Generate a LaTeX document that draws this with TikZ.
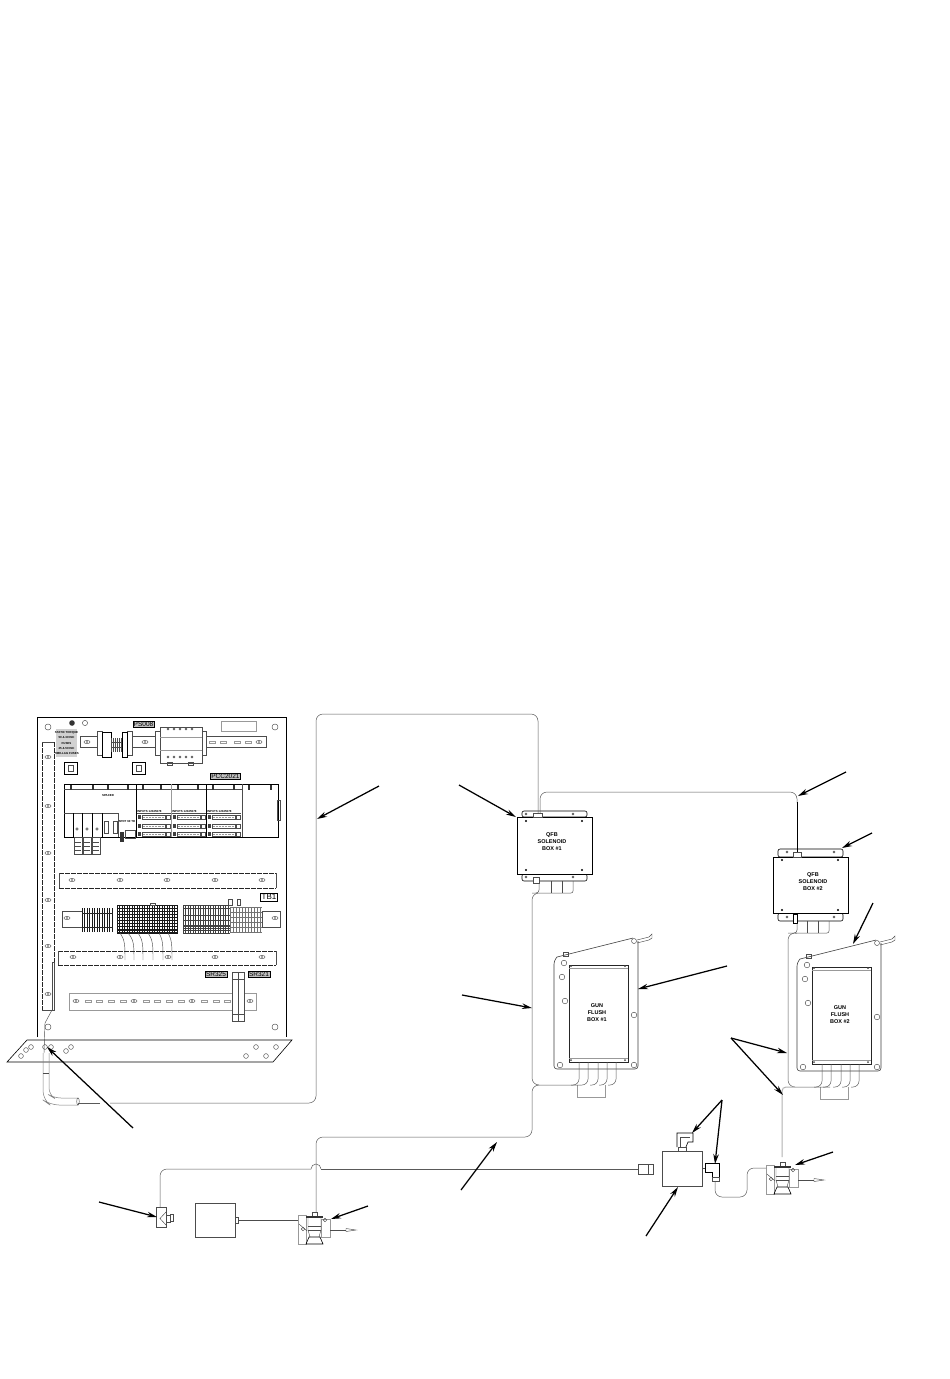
\documentclass[tikz,border=0pt]{standalone}
\usepackage{fontspec}
\setsansfont{Liberation Sans}
\usetikzlibrary{arrows.meta}
\tikzset{
  outline/.style={draw=black,line width=0.6pt},
  part/.style={draw=black!70,line width=0.45pt},
  faint/.style={draw=black!40,line width=0.45pt},
  wire/.style={draw=black!65,line width=0.5pt,rounded corners=7pt},
  railedge/.style={draw=black!85,line width=0.8pt,dash pattern=on 5pt off 1pt},
  leader/.style={draw=black,line width=1.25pt,-{Stealth[length=10pt,width=5.5pt]}},
  boxtext/.style={font=\sffamily\bfseries\fontsize{5.5}{7}\selectfont,align=center,inner sep=0pt},
  tagtext/.style={font=\sffamily\fontsize{6.5}{7}\selectfont,inner sep=1pt,fill=black!25,draw=black,line width=0.4pt},
  tinytext/.style={font=\sffamily\bfseries\fontsize{2.9}{3.9}\selectfont,align=center,inner sep=0pt},
  bolt/.pic={\draw[part] (0,0) ellipse (3 and 1.6); \fill[black!70] (0,0) circle (0.9);},
  slot/.pic={\draw[faint] (-3,-1.2) rectangle (3,1.2);},
  qfbwires/.pic={
    \draw[wire,rounded corners=2pt] (56,64) -- (56,76) -- (22,76);
    \foreach \xs in {34,45} \draw[part] (\xs,64) -- (\xs,76);
  },
  qfbbox/.pic={
    \draw[outline,rounded corners=2pt] (5,0) rectangle (70,-6);
    \draw[outline,rounded corners=2pt] (5,57) rectangle (70,64);
    \draw[outline,fill=white] (0,0) rectangle (75,57);
    \foreach \xs/\ys in {9/4,65/4,9/53,65/53} \fill (\xs,\ys) circle (1.2);
    \foreach \xs in {9,56} {\draw[part] (\xs,-3) circle (1); \draw[part] (\xs,60) circle (1);}
    \pic at (0,0) {qfbwires};
    \node[boxtext] (title) at (35,25) {QFB\\SOLENOID\\BOX \#1};
  },
  gunplate/.pic={
    \draw[outline,draw=black!75] (3,20) -- (79,1);
    \draw[outline,draw=black!75,rounded corners=3pt] (3,20) -- (0,24) -- (0,132) -- (84,132) -- (84,4);
    \draw[outline,draw=black!85] (15,28) rectangle (74,125);
    \draw[faint] (15,31) -- (74,31) (15,121) -- (74,121);
    \foreach \xs/\ys in {10/26,8/40,11/64,80/78,6/128,80/128} \draw[part] (\xs,\ys) circle (2.8);
    \foreach \xs/\ys in {17/29,71/29,17/123,71/123} \fill[black!70] (\xs,\ys) circle (1);
    \draw[part] (9,15) rectangle (14,19);
    \draw[part] (80,4) circle (2.5);
    \draw[part] (83,3) -- (95,0) -- (98,-3) -- (98,1) -- (95,3) -- (83,6);
    \foreach \xs in {25,34,44,53,62} \draw[wire,rounded corners=6pt] (\xs,125) -- (\xs,148) -- ({\xs-8},148);
    \draw[faint] (23,148) -- (23,160) -- (51,160) -- (51,148);
  },
  valve/.pic={
    \draw[faint] (0,3) rectangle (8,32);
    \draw[faint] (23,7) rectangle (32,25);
    \draw[part] (14,0) rectangle (19,4);
    \fill[black!80] (8,4) rectangle (25,6);
    \draw[part] (10,6) -- (10,18) -- (12,25) (23,6) -- (23,18) -- (21,25);
    \draw[part] (10,14) -- (23,14) (10,18) -- (23,18);
    \draw[outline] (8,32) -- (11,25) -- (22,25) -- (25,32) -- cycle;
    \draw[part] (1,12) -- (9,19);
    \draw[part] (27,8) circle (1.8);
    \draw[part] (5,17) circle (1.8);
    \draw[part] (32,18) -- (48,18);
    \draw[part] (48,16.5) -- (58,18) -- (48,19.5) -- cycle;
  }
}
\begin{document}
\begin{tikzpicture}[x=1pt,y=-1pt]
    \fill[white] (0,0) rectangle (950,1379);
    \useasboundingbox (0,0) rectangle (950,1379);
    %% panel
    \draw[outline] (37,1037) -- (37,717) -- (286,717) -- (286,1037);
    \draw[outline] (7,1062) -- (27,1040) -- (292,1040) -- (273,1062) -- cycle;
    \foreach \xh/\yh in {21/1056,26/1050,31/1047,45/1047,51/1047,66/1051,71/1047,246/1056,256/1047,266/1056,276/1047}
      \draw[part] (\xh,\yh) circle (2.4);
    \foreach \xh/\yh in {48/727,275/727,48/1027,275/1027} \draw[part] (\xh,\yh) circle (3);
    \fill[black!80] (72,723) circle (2.8);
    \draw[part] (85,723) circle (2.6);
    \draw[faint] (221,721) rectangle (256,731);
    \node[tagtext] (ps) at (143.5,724) {PS008};
    \node[tagtext] (pcc) at (225.5,776) {PCC2021};
    \node[tagtext,fill=white,font=\sffamily\fontsize{8}{9}\selectfont] (tb) at (269,897) {TB1};
    \node[tagtext] (srl) at (216,974) {SR325};
    \node[tagtext] (srr) at (259,974) {SR321};
    %% side strip
    \draw[railedge] (42,742) -- (42,1010) (54,742) -- (54,962);
    \draw[part] (42,742) -- (54,742) (42,1010) -- (54,1010) (52,962) rectangle (54,1010);
    \foreach \yh in {757,806,853,900,946,994} \pic at (48,\yh) {bolt};
    \draw[part] (52,1010) -- (45,1023) -- (44,1053);
    %% top rail
    \fill[black!18] (56,729) rectangle (77,757);
    \node[tinytext,font=\sffamily\bfseries\fontsize{2.9}{5.4}\selectfont] (notice) at (66.5,743) {STATIC TORQUE\\50 \& 30 INC\\FUSES\\25 \& 50 INC\\TIME-LAG FUSES};
    \draw[part] (80,736) rectangle (97,747) (132,736) rectangle (155,747) (206,736) rectangle (266,747);
    \foreach \xh in {87,145,259} \pic at (\xh,742) {bolt};
    \foreach \xh in {212,223,237,248} \pic at (\xh,742) {slot};
    \foreach \xh/\yh in {64/762,132/762} {
      \draw[outline] (\xh,\yh) rectangle (\xh+13,\yh+12);
      \draw[part] (\xh+4,\yh+3) rectangle (\xh+9,\yh+9);
    }
    \draw[part] (97,731) rectangle (102,755) (127,731) rectangle (132,755);
    \draw[outline] (102,732) rectangle (111,757) (122,732) rectangle (127,757);
    \foreach \xh in {111,113,...,122} \draw[part] (\xh,738) -- (\xh,752);
    \draw[part] (111,742) -- (122,742) (111,747) -- (122,747);
    \draw[part] (155,731) rectangle (160,755) (202,731) rectangle (206,755);
    \draw[part] (160,727) rectangle (202,763);
    \draw[faint] (160,737) -- (202,737) (160,750) -- (202,750);
    \foreach \xh in {168,174,180,186,192} {\draw[part] (\xh,729) circle (1); \draw[part] (\xh,757) circle (1);}
    \draw[part] (167,762) rectangle (172,765) (188,762) rectangle (193,765);
    %% rack
    \draw[outline] (64,784) rectangle (278,837);
    \draw[part] (64,789) -- (242,789);
    \draw[outline] (136,784) -- (136,837) (206,784) -- (206,837);
    \draw[faint] (171,784) -- (171,837);
    \draw[part] (242,784) -- (242,837);
    \foreach \xh in {70,92,107,127,142,160,177,197,212,233,248,270} \fill[black!80] (\xh,785) rectangle (\xh+1.5,790);
    \node[tinytext] (spaced) at (108,795) {SPACED};
    \draw[part] (64,813) -- (118,813) -- (118,837);
    \draw[outline] (73,813) -- (73,837) (82,813) -- (82,837) (92,813) -- (92,837) (102,813) -- (102,837);
    \foreach \xh in {77,87,97} \draw[part] (\xh,829) circle (1.2);
    \draw[part] (104,821) rectangle (108,833) (113,821) rectangle (117,833);
    \foreach \xh in {74,83,92} {
      \draw[part] (\xh,837) rectangle (\xh+8,854);
      \foreach \yh in {842,846,850} \draw[part] (\xh+1,\yh) -- (\xh+7,\yh);
    }
    \fill[black!80] (120,832) rectangle (124,842);
    \draw[part] (125,830) rectangle (135,838);
    \node[tinytext] (spd) at (127,821) {SPDT 60 TD};
    \foreach \xh/\lbl in {137/INPUTS,172/INPUTS,207/INPUTS} {
      \node[tinytext,anchor=west] at (\xh,811) {\lbl\ 12345678};
      \draw[part] (\xh,813.5) -- (\xh+34,813.5);
      \foreach \yh in {817,826,834} {
        \fill[black!75] (\xh+1,\yh-2) rectangle (\xh+4,\yh+2);
        \draw[part] (\xh+5,\yh-2) rectangle (\xh+28,\yh+2);
        \draw[faint,densely dotted] (\xh+6,\yh) -- (\xh+27,\yh);
        \draw[part] (\xh+29,\yh-2) rectangle (\xh+33,\yh+2);
      }
    }
    \draw[part] (277,800) rectangle (280,820);
    %% upper mid rail
    \draw[railedge] (59,873) -- (276,873) (59,888) -- (276,888);
    \draw[part] (59,873) -- (59,888) (276,873) -- (276,888);
    \foreach \xh in {72,120,167,215,262} \pic at (\xh,880) {bolt};
    %% terminals
    \draw[part] (62,911) rectangle (82,927) (262,911) rectangle (280,927);
    \foreach \xh in {67,275} \pic at (\xh,918) {bolt};
    \foreach \xh in {82,84.5,...,113} \draw[black!90,line width=0.7pt] (\xh,908) -- (\xh,932);
    \draw[black!85,line width=0.6pt] (82,913) -- (113,913) (82,927) -- (113,927);
    \foreach \xh in {117,119.5,...,178} \draw[black!90,line width=0.8pt] (\xh,905) -- (\xh,933);
    \foreach \yh in {905,908,911,914,917,920,923,926,929,930.5,932,933} \draw[black!90,line width=0.8pt] (117,\yh) -- (178,\yh);
    \foreach \xh in {183,185.5,...,230} \draw[black!75,line width=0.6pt] (\xh,905) -- (\xh,933);
    \foreach \yh in {905,908,915,920,925,926.5,928,930,933} \draw[black!75,line width=0.7pt] (183,\yh) -- (230,\yh);
    \foreach \xh in {230,233,...,262} \draw[black!55,line width=0.45pt] (\xh,907) -- (\xh,932);
    \foreach \yh in {907,912,917,922,927,932} \draw[black!55,line width=0.45pt] (230,\yh) -- (262,\yh);
    \draw[part] (228,899) rectangle (232,905) (237,899) rectangle (240,905) (150,903) rectangle (155,905);
    \foreach \xa/\xb in {120/125,128/134,138/143,148/153,159/163,168/172}
      \draw[part] (\xa,933) .. controls (\xb,940) and (\xb,945) .. (\xb,960);
    %% lower mid rail
    \draw[railedge] (58,951) -- (276,951) (58,965) -- (276,965);
    \draw[part] (58,951) -- (58,965) (276,951) -- (276,965);
    \foreach \xh in {73,120,168,215,262} \pic at (\xh,957) {bolt};
    %% bottom rail
    \draw[faint] (69,993) rectangle (256,1010);
    \foreach \xh in {76,134,192,250} \pic at (\xh,1001) {bolt};
    \foreach \xh in {88,99,111,123,146,157,169,181,204,216,227} \pic at (\xh,1001) {slot};
    \draw[part,fill=white] (232,972) rectangle (244,1021);
    \draw[part] (238,972) -- (238,1021) (232,979) -- (244,979) (232,1014) -- (244,1014);
    %% conduit
    \draw[black!50,line width=0.5pt,rounded corners=9pt] (43,1053) -- (43,1100) -- (50,1105) -- (78,1105);
    \draw[black!50,line width=0.5pt,rounded corners=7pt] (49,1053) -- (49,1095) -- (54,1098) -- (78,1098);
    \draw[part] (43,1073) -- (49,1073);
    \draw[part] (78,1101.5) ellipse (1.3 and 3.5);
    %% boxes
    \pic (qfbone) at (517,817) {qfbbox};
    \pic at (554,937) {gunplate};
    \node[boxtext] (gunone) at (597,1013) {GUN\\FLUSH\\BOX \#1};
    \pic at (797,939) {gunplate};
    \node[boxtext] (guntwo) at (840,1015) {GUN\\FLUSH\\BOX \#2};
    \begin{scope}[shift={(773,857)}]
      \draw[outline,rounded corners=2pt] (5,0) rectangle (70,-8);
      \draw[outline,rounded corners=2pt] (5,56) rectangle (70,64);
      \draw[outline,fill=white] (0,0) rectangle (75,56);
      \foreach \xs/\ys in {9/3,65/3,9/53,65/53} \fill (\xs,\ys) circle (1.2);
      \foreach \xs in {14,61} {\draw[part] (\xs,-5) circle (1); \draw[part] (\xs,60) circle (1);}
      \pic at (0,0) {qfbwires};
      \node[boxtext] (qfbtwo) at (40,25) {QFB\\SOLENOID\\BOX \#2};
    \end{scope}
    \draw[part,fill=white] (533,813) rectangle (542,817);
    \draw[part,fill=white] (533,877) rectangle (539,883);
    \draw[part,fill=white] (793,852) rectangle (801,857);
    \draw[outline,fill=white] (793,914) rectangle (797,923);
    %% cables
    \draw[wire] (110,1103) -- (316,1103) -- (316,714) -- (538,714) -- (538,813);
    \draw[wire] (78,1103) -- (100,1103);
    \draw[wire] (540,813) -- (540,792) -- (797,792) -- (797,803);
    \draw[black,line width=0.7pt] (797,802) -- (797,852);
    \draw[wire,rounded corners=3pt] (539,883) -- (539,893) -- (532,893);
    \draw[wire] (539,893) -- (532,893) -- (532,1085) -- (580,1085);
    \draw[wire] (538,1085) -- (532,1085) -- (532,1137) -- (316,1137) -- (316,1212);
    \draw[wire] (638,1169) -- (321,1169);
    \draw[wire,rounded corners=0pt] (321,1169) arc (0:-180:5);
    \draw[wire] (311,1169) -- (160,1169) -- (160,1207);
    \draw[wire,rounded corners=3pt] (797,923) -- (797,933) -- (788,933);
    \draw[wire] (797,933) -- (788,933) -- (788,1087) -- (830,1087);
    \draw[black!30,line width=1pt,rounded corners=4pt] (795,1087) -- (782,1087) -- (782,1157);
    %% small parts
    \draw[part] (156,1207) rectangle (166,1227);
    \draw[part] (166,1212) -- (160,1218.5) -- (166,1225);
    \draw[part] (166,1215) rectangle (170,1222) (170,1214) rectangle (173,1221);
    \draw[part] (195,1203) rectangle (235,1237);
    \draw[part] (235,1217) rectangle (238,1223);
    \draw[part] (238,1220) -- (298,1220);
    \pic at (298,1212) {valve};
    \pic at (766,1162) {valve};
    \draw[part] (638,1164) rectangle (653,1174) (648,1164) -- (648,1174);
    \draw[part] (662,1151) rectangle (702,1186);
    \draw[outline] (677,1147) -- (677,1133) -- (693,1133) -- (693,1142) -- (688,1142) -- (686,1147);
    \draw[part] (680,1147) -- (680,1137) -- (690,1137);
    \draw[part] (678,1147) rectangle (686,1151);
    \draw[part] (702,1168) -- (705,1168);
    \draw[outline] (705,1163) -- (719,1163) -- (719,1177) -- (712,1177) -- (712,1172) -- (705,1172) -- cycle;
    \draw[part] (712,1177) rectangle (719,1181);
    \draw[wire] (715,1181) -- (715,1197) -- (747,1197) -- (747,1168) -- (766,1168);
    %% leaders
    \coordinate (cableA) at (379,786);   \coordinate (cableAtip) at (317,819);
    \coordinate (qfbA) at (459,785);     \coordinate (qfbAtip) at (516,817);
    \coordinate (cableB) at (846,772);   \coordinate (cableBtip) at (798,796);
    \coordinate (qfbB) at (872,833);     \coordinate (qfbBtip) at (842,848);
    \coordinate (gunC) at (873,903);     \coordinate (gunCtip) at (853,944);
    \coordinate (gunD) at (727,966);     \coordinate (gunDtip) at (638,989);
    \coordinate (cableE) at (462,995);   \coordinate (cableEtip) at (532,1008);
    \coordinate (twin) at (731,1038);    \coordinate (twinA) at (787,1053);  \coordinate (twinB) at (783,1095);
    \coordinate (bulk) at (133,1128);    \coordinate (bulktip) at (47,1047);
    \coordinate (cableF) at (461,1190);  \coordinate (cableFtip) at (497,1142);
    \coordinate (tee) at (99,1202);      \coordinate (teetip) at (157,1217);
    \coordinate (valveA) at (368,1206);  \coordinate (valveAtip) at (331,1219);
    \coordinate (elbow) at (722,1100);   \coordinate (elbowA) at (692,1133); \coordinate (elbowB) at (715,1164);
    \coordinate (meter) at (646,1236);   \coordinate (metertip) at (678,1187);
    \coordinate (valveB) at (833,1152);  \coordinate (valveBtip) at (795,1165);
    \draw[leader] (cableA) -- (cableAtip);
    \draw[leader] (qfbA) -- (qfbAtip);
    \draw[leader] (cableB) -- (cableBtip);
    \draw[leader] (qfbB) -- (qfbBtip);
    \draw[leader] (gunC) -- (gunCtip);
    \draw[leader] (gunD) -- (gunDtip);
    \draw[leader] (cableE) -- (cableEtip);
    \draw[leader] (twin) -- (twinA);
    \draw[leader] (twin) -- (twinB);
    \draw[leader] (bulk) -- (bulktip);
    \draw[leader] (cableF) -- (cableFtip);
    \draw[leader] (tee) -- (teetip);
    \draw[leader] (valveA) -- (valveAtip);
    \draw[leader] (elbow) -- (elbowA);
    \draw[leader] (elbow) -- (elbowB);
    \draw[leader] (meter) -- (metertip);
    \draw[leader] (valveB) -- (valveBtip);
  \end{tikzpicture}
\end{document}
